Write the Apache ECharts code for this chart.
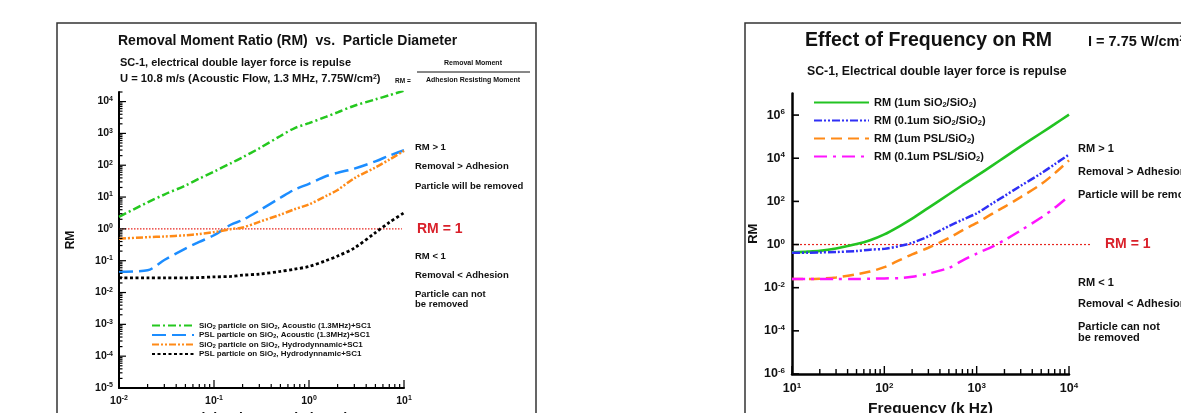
<!DOCTYPE html>
<html><head><meta charset="utf-8">
<script src="https://cdn.jsdelivr.net/npm/echarts@6/dist/echarts.min.js"></script>
<style>html,body{margin:0;padding:0;background:#fff}#c{width:1181px;height:413px}</style>
</head><body><div id="c"></div>
<script>
// ---------- Left chart: RM vs particle diameter ----------
const diameters = [0.01,0.02,0.03,0.05,0.07,0.1,0.15,0.2,0.3,0.5,0.7,1,1.5,2,3,5,7,10];
const rmSiO2Acoustic = [2.4,6.8,12,23,38,63,115,178,340,830,1450,2100,3300,4600,7400,11700,15800,22000];
const rmPSLAcoustic  = [0.045,0.05,0.105,0.24,0.39,0.63,1.35,1.9,3.8,9.5,17,26,45,58,78,132,200,295];
const rmSiO2Hydro    = [0.49,0.55,0.575,0.63,0.69,0.79,0.98,1.1,1.66,2.8,4.1,5.9,10.7,16.6,39,85,150,282];
const rmPSLHydro     = [0.029,0.029,0.029,0.029,0.0295,0.031,0.032,0.035,0.038,0.046,0.054,0.066,0.1,0.14,0.25,0.76,1.6,3.2];
const leftNames = [
  'SiO2 particle on SiO2, Acoustic (1.3MHz)+SC1',
  'PSL particle on SiO2, Acoustic (1.3MHz)+SC1',
  'SiO2 particle on SiO2, Hydrodynnamic+SC1',
  'PSL particle on SiO2, Hydrodynnamic+SC1'
];
// ---------- Right chart: effect of frequency ----------
const freqs = [10,15,20,30,50,70,100,150,200,300,500,700,1000,1500,2000,3000,5000,7000,10000];
const rm1umSiO2   = [0.44,0.47,0.51,0.66,1.05,1.58,2.95,7.6,15.8,50,214,562,1510,4790,11000,35500,148000,380000,1050000];
const rm01umSiO2  = [0.42,0.42,0.43,0.45,0.5,0.58,0.63,0.87,1.2,2.4,7.1,14,28,83,178,525,2000,5250,14800];
const rm1umPSL    = [0.025,0.025,0.026,0.03,0.042,0.056,0.089,0.2,0.35,0.71,2.0,4.5,10,28,56,158,630,2000,7900];
const rm01umPSL   = [0.025,0.025,0.025,0.025,0.025,0.026,0.027,0.028,0.032,0.045,0.083,0.18,0.38,0.83,1.6,4.5,17.8,50,178];
const rightNames = ['RM (1um SiO2/SiO2)','RM (0.1um SiO2/SiO2)','RM (1um PSL/SiO2)','RM (0.1um PSL/SiO2)'];

const leftAnnot = [['RM > 1',147],['Removal > Adhesion',166],['Particle will be removed',186],['RM < 1',256],['Removal < Adhesion',275],['Particle can not',294],['be removed',304]];
const rightAnnot = [['RM > 1',149],['Removal > Adhesion',172],['Particle will be removed',195],['RM < 1',283],['Removal < Adhesion',304],['Particle can not',327],['be removed',338]];

const F = "'Liberation Sans', Arial, Helvetica, sans-serif";
const zip = (xs, ys) => xs.map((x, i) => [x, ys[i]]);

function powLabel(step) {
  return function (v) {
    const e = Math.log10(v), r = Math.round(e);
    if (Math.abs(e - r) > 1e-6 || r % step !== 0) return '';
    return '10{s|' + r + '}';
  };
}
// tick marks (inward) for log axes
function logTickList(e0, e1, maxV, majLen, minLen, majStep, withMinor) {
  const out = [];
  for (let e = e0; e <= e1; e++) {
    if ((e - e0) % majStep === 0) out.push([Math.pow(10, e), majLen]);
    if (withMinor) for (let k = 2; k <= 9; k++) { const v = k * Math.pow(10, e); if (v <= maxV) out.push([v, minLen]); }
  }
  return out;
}
function xTickSeries(gi, y0, data, w) {
  return { type: 'custom', xAxisIndex: gi, yAxisIndex: gi, clip: false, silent: true, z: 5,
    encode: { x: 0, y: 1 }, data: data,
    renderItem: function (p, api) {
      const c = api.coord([api.value(0), y0]); const L = api.value(1);
      return { type: 'line', shape: { x1: c[0], y1: c[1], x2: c[0], y2: c[1] - L }, style: { stroke: '#000', lineWidth: w } };
    } };
}
function yTickSeries(gi, x0, data, w) {
  return { type: 'custom', xAxisIndex: gi, yAxisIndex: gi, clip: false, silent: true, z: 5,
    encode: { y: 0, x: 1 }, data: data,
    renderItem: function (p, api) {
      const c = api.coord([x0, api.value(0)]); const L = api.value(1);
      return { type: 'line', shape: { x1: c[0], y1: c[1], x2: c[0] + L, y2: c[1] }, style: { stroke: '#000', lineWidth: w } };
    } };
}

const chart = echarts.init(document.getElementById('c'), null, { renderer: 'canvas' });
const subRich = (fs) => ({ s: { fontSize: fs, fontWeight: 'bold', fontFamily: F, verticalAlign: 'bottom', lineHeight: fs, color: '#111' } });
const supRich = (fs) => ({ s: { fontSize: fs, fontWeight: 'bold', fontFamily: F, verticalAlign: 'top', lineHeight: fs, color: '#111' } });

function lineSeries(gi, name, xs, ys, color, type, width) {
  return { name: name, type: 'line', xAxisIndex: gi, yAxisIndex: gi, data: zip(xs, ys), symbol: 'none',
    smooth: 0.3, clip: true, z: 3, lineStyle: { color: color, width: width, type: type }, itemStyle: { color: color } };
}

const option = {
  animation: false,
  backgroundColor: '#fff',
  grid: [
    { left: 119, top: 92, width: 285, height: 296, outerBoundsMode: 'none', containLabel: false },
    { left: 792, top: 93.5, width: 277, height: 280.5, outerBoundsMode: 'none', containLabel: false }
  ],
  xAxis: [
    { type: 'log', gridIndex: 0, min: 0.01, max: 10, interval: 1, splitLine: { show: false }, axisTick: { show: false },
      axisLine: { lineStyle: { color: '#000', width: 2 } },
      axisLabel: { formatter: powLabel(1), margin: 7, color: '#111', fontSize: 10.5, fontWeight: 'bold', fontFamily: F, lineHeight: 12, rich: supRich(7) },
      name: 'Particle Diameter (micron)', nameLocation: 'middle', nameGap: 23,
      nameTextStyle: { fontSize: 14, fontWeight: 'bold', fontFamily: F, color: '#111' } },
    { type: 'log', gridIndex: 1, min: 10, max: 10000, interval: 1, splitLine: { show: false }, axisTick: { show: false },
      axisLine: { lineStyle: { color: '#000', width: 2.5 } },
      axisLabel: { formatter: powLabel(1), margin: 8, color: '#111', fontSize: 12.5, fontWeight: 'bold', fontFamily: F, lineHeight: 14, rich: supRich(8) },
      name: 'Frequency (k Hz)', nameLocation: 'middle', nameGap: 19,
      nameTextStyle: { fontSize: 15.5, fontWeight: 'bold', fontFamily: F, color: '#111' } }
  ],
  yAxis: [
    { type: 'log', gridIndex: 0, min: 1e-5, max: 2e4, interval: 1, splitLine: { show: false }, axisTick: { show: false },
      axisLine: { lineStyle: { color: '#000', width: 2 } },
      axisLabel: { formatter: powLabel(1), margin: 6, color: '#111', fontSize: 10.5, fontWeight: 'bold', fontFamily: F, lineHeight: 12, rich: supRich(7) },
      name: 'RM', nameLocation: 'middle', nameGap: 42,
      nameTextStyle: { fontSize: 12, fontWeight: 'bold', fontFamily: F, color: '#111' } },
    { type: 'log', gridIndex: 1, min: 1e-6, max: 1e7, interval: 1, splitLine: { show: false }, axisTick: { show: false },
      axisLine: { lineStyle: { color: '#000', width: 2.5 } },
      axisLabel: { formatter: powLabel(2), margin: 7, color: '#111', fontSize: 12.5, fontWeight: 'bold', fontFamily: F, lineHeight: 14, rich: supRich(8) },
      name: 'RM', nameLocation: 'middle', nameGap: 29,
      nameTextStyle: { fontSize: 13, fontWeight: 'bold', fontFamily: F, color: '#111' } }
  ],
  legend: [
    { data: leftNames, left: 146, top: 316, orient: 'vertical', itemWidth: 42, itemHeight: 8, itemGap: 0.5,
      itemStyle: { opacity: 0 },
      formatter: n => n.replace(/SiO2/g, 'SiO{s|2}'),
      textStyle: { fontSize: 8, fontWeight: 'bold', fontFamily: F, color: '#111', lineHeight: 9, rich: subRich(5.5) } },
    { data: rightNames, left: 808, top: 91, orient: 'vertical', itemWidth: 55, itemHeight: 12, itemGap: 5,
      itemStyle: { opacity: 0 },
      formatter: n => n.replace(/SiO2/g, 'SiO{s|2}'),
      textStyle: { fontSize: 11, fontWeight: 'bold', fontFamily: F, color: '#111', lineHeight: 13, rich: subRich(7.5) } }
  ],
  series: [
    lineSeries(0, leftNames[0], diameters, rmSiO2Acoustic, '#25c81f', [8, 3, 2, 3], 2.5),
    lineSeries(0, leftNames[1], diameters, rmPSLAcoustic, '#1c8dff', [14, 6], 2.5),
    lineSeries(0, leftNames[2], diameters, rmSiO2Hydro, '#ff8a17', [7, 2, 2, 2, 2, 2], 2.5),
    lineSeries(0, leftNames[3], diameters, rmPSLHydro, '#000', [3, 2.5], 2.8),
    lineSeries(1, rightNames[0], freqs, rm1umSiO2, '#22c322', 'solid', 2.6),
    lineSeries(1, rightNames[1], freqs, rm01umSiO2, '#2f2ff5', [8, 2, 2, 2, 2, 2], 2.5),
    lineSeries(1, rightNames[2], freqs, rm1umPSL, '#ff8a17', [11, 6], 2.5),
    lineSeries(1, rightNames[3], freqs, rm01umPSL, '#ff14ff', [13, 6, 3, 6], 2.5),
    xTickSeries(0, 1e-5, logTickList(-2, 1, 10, 8, 4, 1, true), 1.2),
    yTickSeries(0, 0.01, logTickList(-5, 4, 2e4, 7, 3.5, 1, true), 1.2),
    xTickSeries(1, 1e-6, logTickList(1, 4, 1e4, 8, 5, 1, true), 1.4),
    yTickSeries(1, 10, logTickList(-6, 6, 1e6, 7, 0, 2, false), 1.6)
  ]
};
chart.setOption(option);

function txt(x, y, text, size, opts) {
  opts = opts || {};
  return { type: 'text', silent: true, z: 10, style: Object.assign({
    x: x, y: y, text: text, fill: opts.color || '#111', textAlign: opts.align || 'left', textVerticalAlign: 'middle',
    font: 'bold ' + size + 'px ' + F }, opts.rich ? { rich: opts.rich } : {}) };
}
const oneL = chart.convertToPixel({ gridIndex: 0 }, [0.01, 1]);
const oneLEnd = chart.convertToPixel({ gridIndex: 0 }, [9.5, 1]);
const oneR = chart.convertToPixel({ gridIndex: 1 }, [10, 1]);
const gfx = [
  { type: 'rect', silent: true, shape: { x: 57, y: 23, width: 479, height: 420 }, style: { fill: 'none', stroke: '#333', lineWidth: 1.5 } },
  { type: 'rect', silent: true, shape: { x: 745, y: 23, width: 470, height: 420 }, style: { fill: 'none', stroke: '#333', lineWidth: 1.5 } },
  txt(118, 41, 'Removal Moment Ratio (RM)  vs.  Particle Diameter', 14),
  txt(120, 63, 'SC-1, electrical double layer force is repulse', 11),
  txt(120, 79, 'U = 10.8 m/s (Acoustic Flow, 1.3 MHz, 7.75W/cm{p|2})', 11.2,
      { rich: { p: { fontSize: 7, fontWeight: 'bold', fontFamily: F, verticalAlign: 'top', lineHeight: 7, fill: '#111' } } }),
  txt(395, 81, 'RM =', 6.5),
  { type: 'line', silent: true, shape: { x1: 417, y1: 72, x2: 530, y2: 72 }, style: { stroke: '#111', lineWidth: 1 } },
  txt(473, 63.5, 'Removal Moment', 7, { align: 'center' }),
  txt(473, 80, 'Adhesion Resisting Moment', 7, { align: 'center' }),
  txt(417, 229, 'RM = 1', 14, { color: '#d9202a' }),
  txt(805, 41, 'Effect of Frequency on RM', 19.5),
  txt(1088, 42, 'I = 7.75 W/cm{p|2}', 14.5,
      { rich: { p: { fontSize: 8.5, fontWeight: 'bold', fontFamily: F, verticalAlign: 'top', lineHeight: 8.5, fill: '#111' } } }),
  txt(807, 72, 'SC-1, Electrical double layer force is repulse', 12.3),
  txt(1105, 244, 'RM = 1', 14, { color: '#d9202a' }),
  { type: 'line', silent: true, z: 2, shape: { x1: oneL[0], y1: oneL[1], x2: oneLEnd[0], y2: oneLEnd[1] }, style: { stroke: '#e8251f', lineWidth: 1.2, lineDash: [1.5, 1.5] } },
  { type: 'line', silent: true, z: 2, shape: { x1: oneR[0], y1: oneR[1], x2: 1092, y2: oneR[1] }, style: { stroke: '#e8251f', lineWidth: 1.2, lineDash: [2, 2] } }
];
leftAnnot.forEach(a => gfx.push(txt(415, a[1], a[0], 9.5)));
rightAnnot.forEach(a => gfx.push(txt(1078, a[1], a[0], 11)));
chart.setOption({ graphic: gfx });
</script></body></html>
